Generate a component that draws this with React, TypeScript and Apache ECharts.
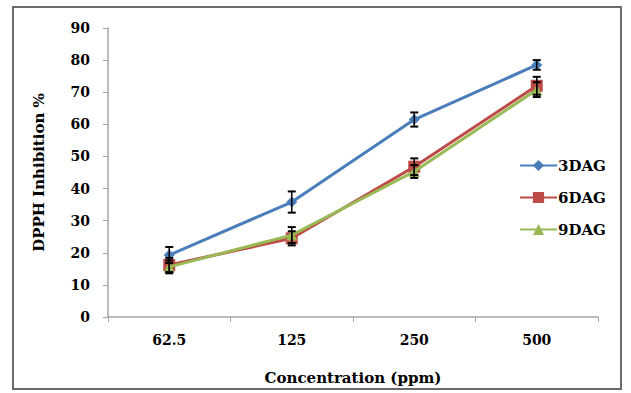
import React, { useEffect, useRef } from "react";
import * as echarts from "echarts";

const categories = ["62.5", "125", "250", "500"];
const seriesNames = ["3DAG", "6DAG", "9DAG"];
const values3DAG = [19.3, 35.8, 61.5, 78.5];
const values6DAG = [16.2, 24.5, 46.8, 72.0];
const values9DAG = [15.6, 25.5, 45.3, 70.8];
const errors3DAG = [2.5, 3.3, 2.2, 1.5];
const errors6DAG = [2.2, 2.2, 2.6, 2.8];
const errors9DAG = [2.0, 2.5, 2.0, 2.3];
const yTicks = { min: 0, max: 90, interval: 10 };

const colors = ["#4a7ebb", "#be4b48", "#98b954"];
const FONT = "DejaVu Serif";

export default function App() {
  const ref = useRef<HTMLDivElement>(null);
  useEffect(() => {
    if (!ref.current) return;
    const chart = echarts.init(ref.current, undefined, { renderer: "svg" });
    const allValues = [values3DAG, values6DAG, values9DAG];
    const allErrors = [errors3DAG, errors6DAG, errors9DAG];
    const symbols = ["diamond", "rect", "triangle"];
    const symbolSizes = [11, 12, 11];

    const lineSeries = seriesNames.map((name, i) => ({
      name,
      type: "line",
      data: allValues[i],
      symbol: symbols[i],
      symbolSize: symbolSizes[i],
      lineStyle: { color: colors[i], width: 3 },
      itemStyle: { color: colors[i] },
      z: 3 + i,
    }));

    const errorSeries = seriesNames.map((name, i) => ({
      name: name + " error",
      type: "custom",
      data: allValues[i].map((v, j) => [j, v - allErrors[i][j], v + allErrors[i][j]]),
      z: 10,
      silent: true,
      renderItem: (params: any, api: any) => {
        const x = api.value(0);
        const lo = api.coord([x, api.value(1)]);
        const hi = api.coord([x, api.value(2)]);
        const hw = 4;
        const style = { stroke: "#000", lineWidth: 1.5 };
        const cap = { stroke: "#000", lineWidth: 2 };
        return {
          type: "group",
          children: [
            { type: "line", shape: { x1: lo[0], y1: lo[1], x2: hi[0], y2: hi[1] }, style },
            { type: "line", shape: { x1: lo[0] - hw, y1: lo[1], x2: lo[0] + hw, y2: lo[1] }, style: cap },
            { type: "line", shape: { x1: hi[0] - hw, y1: hi[1], x2: hi[0] + hw, y2: hi[1] }, style: cap },
          ],
        };
      },
    }));

    chart.setOption({
      animation: false,
      backgroundColor: "#fff",
      grid: { left: 108, right: 33, top: 28, bottom: 76 },
      graphic: [
        {
          type: "rect",
          shape: { x: 13, y: 7, width: 608, height: 382 },
          style: { fill: "none", stroke: "#6b6b6b", lineWidth: 2 },
          silent: true,
        },
      ],
      legend: {
        orient: "vertical",
        left: 514,
        top: 153,
        itemWidth: 37,
        itemHeight: 14,
        itemGap: 17,
        data: seriesNames,
        textStyle: {
          fontFamily: FONT,
          fontWeight: "bold",
          fontSize: 15,
          lineHeight: 14,
          color: "#000",
          padding: [0, 0, 0, -4],
        },
      },
      xAxis: {
        type: "category",
        data: categories,
        boundaryGap: true,
        name: "Concentration (ppm)",
        nameLocation: "middle",
        nameGap: 53,
        nameTextStyle: { fontFamily: FONT, fontWeight: "bold", fontSize: 15, color: "#000" },
        axisLine: { lineStyle: { color: "#a6a6a6", width: 1.5 } },
        axisTick: { show: true, length: 5, lineStyle: { color: "#a6a6a6" } },
        axisLabel: { margin: 16, fontFamily: FONT, fontWeight: "bold", fontSize: 14, color: "#000" },
      },
      yAxis: {
        type: "value",
        min: yTicks.min,
        max: yTicks.max,
        interval: yTicks.interval,
        name: "DPPH Inhibition %",
        nameLocation: "middle",
        nameGap: 62,
        nameRotate: 90,
        nameTextStyle: { fontFamily: FONT, fontWeight: "bold", fontSize: 15, color: "#000" },
        axisLine: { show: true, lineStyle: { color: "#a6a6a6", width: 1.5 } },
        axisTick: { show: true, length: 5, lineStyle: { color: "#a6a6a6" } },
        splitLine: { show: false },
        axisLabel: { margin: 18, fontFamily: FONT, fontWeight: "bold", fontSize: 14, color: "#000" },
      },
      series: [...lineSeries, ...errorSeries],
    });
    return () => chart.dispose();
  }, []);
  return (
    <div
      ref={ref}
      style={{ position: "fixed", left: 0, top: 0, width: 631, height: 393 }}
    />
  );
}
